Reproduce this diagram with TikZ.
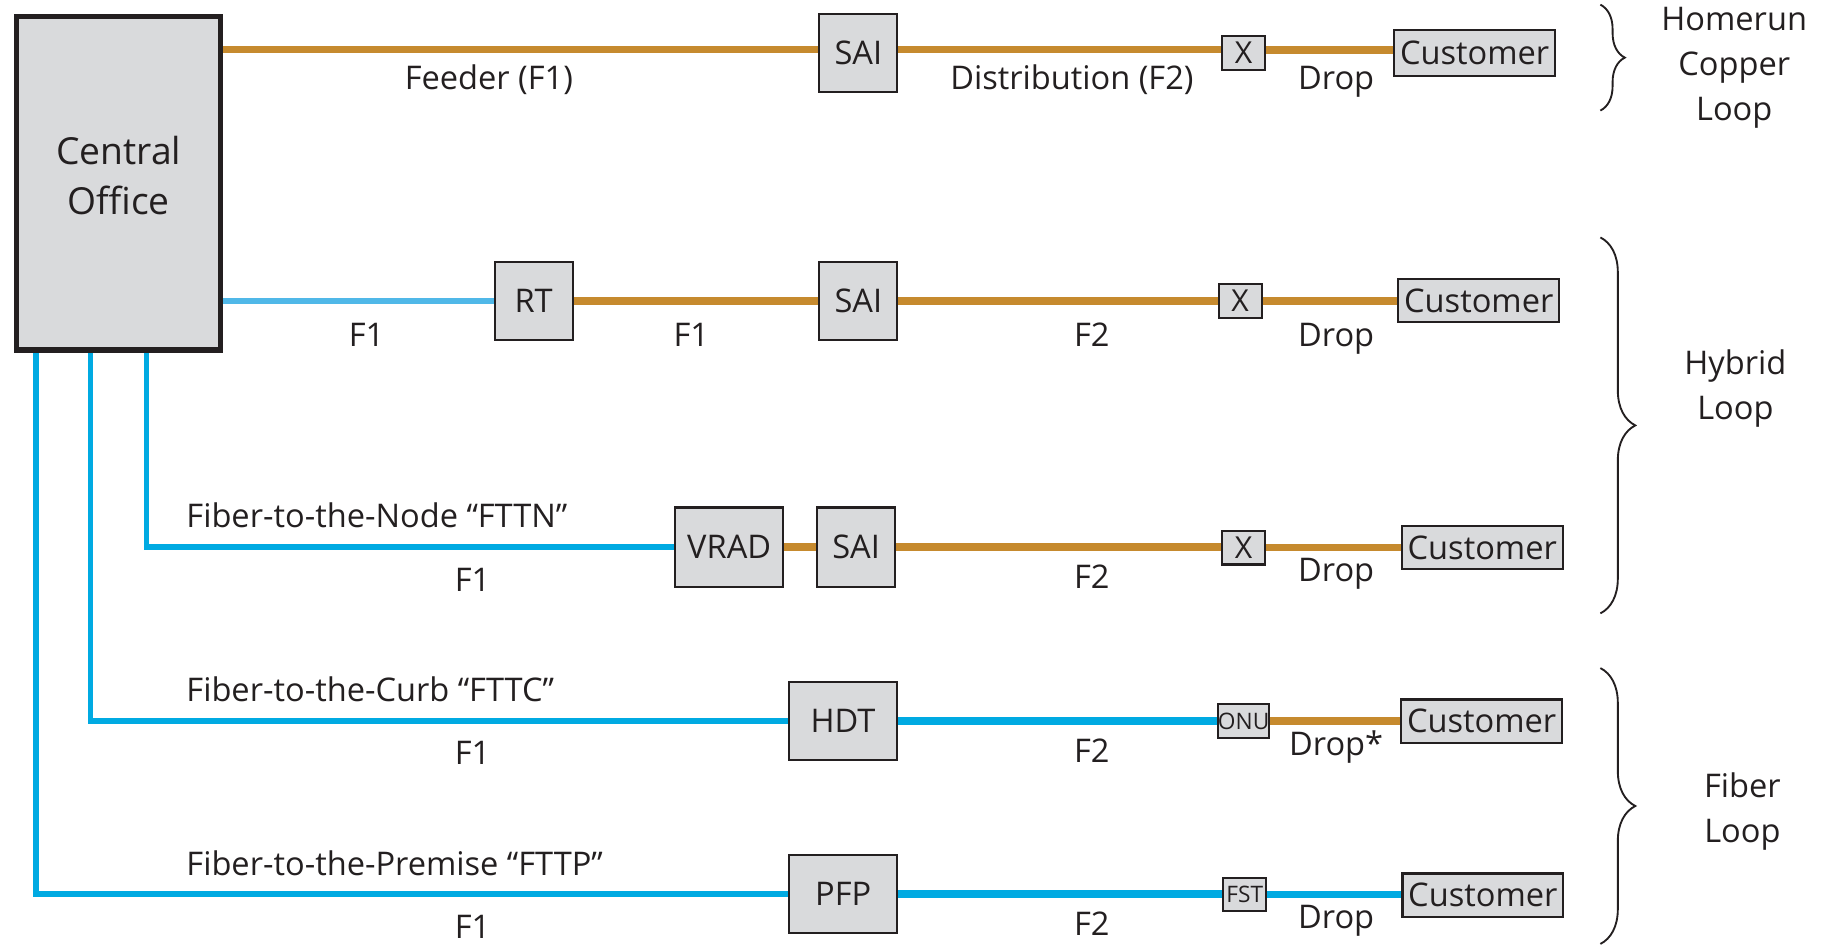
\documentclass[tikz,border=0pt]{standalone}
\usepackage{fontspec}
\setmainfont{Open Sans}
\usetikzlibrary{decorations.pathreplacing,backgrounds}
\definecolor{copperc}{HTML}{C68A2E}
\definecolor{fiberc}{HTML}{00AAE2}
\definecolor{fiberlt}{HTML}{50B8E8}
\definecolor{boxfill}{HTML}{D9DADC}
\definecolor{edgec}{HTML}{231F20}
\tikzset{
  gbox/.style={draw=edgec, fill=boxfill, line width=1.8pt, inner sep=0pt, outer sep=0pt},
  cobox/.style={draw=edgec, fill=boxfill, line width=4.5pt, inner sep=0pt, align=center,
                minimum width=175.5pt, minimum height=286.5pt},
  bigbox/.style={gbox, minimum width=67pt, minimum height=67pt},
  smallbox/.style={gbox, minimum width=37pt, minimum height=29pt},
  custbox/.style={gbox, minimum width=138pt, minimum height=37pt},
  tinytext/.style={font=\fontsize{19.5}{22}\selectfont},
  xtext/.style={font=\fontsize{26}{30}\selectfont},
  lbl/.style={anchor=base, inner sep=0pt},
  flbl/.style={anchor=base west, inner sep=0pt},
  looplbl/.style={align=center, inner sep=0pt},
  copper/.style={draw=copperc, line width=6.6pt},
  fiber/.style={draw=fiberc, line width=4.5pt},
  fiberthick/.style={draw=fiberc, line width=6.8pt},
  fiberlight/.style={draw=fiberlt, line width=5pt},
  curly/.style={draw=edgec, line width=1.6pt, decorate, decoration={brace, amplitude=#1}}
}
\begin{document}
\begin{tikzpicture}[x=1pt, y=-1pt, font=\fontsize{28}{38.5}\selectfont, text=edgec]
\useasboundingbox (0,0) rectangle (1568,813);

% Central office
\node[cobox] (co) at (102,157.5) {};
\node[align=center, inner sep=0pt, font=\fontsize{32}{43}\selectfont] (cotext) at (102,151) {Central\\Office};

% Row 1
\node[bigbox] (sai1) at (737.5,45.5) {SAI};
\node[smallbox, xtext] (x1) at (1068.5,45.5) {X};
\node[custbox, minimum height=39pt] (cust1) at (1267,45.5) {Customer};

% Row 2
\node[bigbox] (rt) at (458.5,258.5) {RT};
\node[bigbox] (sai2) at (737.5,258.5) {SAI};
\node[smallbox, xtext] (x2) at (1065.5,258.5) {X};
\node[custbox] (cust2) at (1270.5,258.5) {Customer};

% Row 3
\node[gbox, minimum width=93pt, minimum height=68pt] (vrad) at (626.5,470) {VRAD};
\node[gbox, minimum width=67pt, minimum height=68pt] (sai3) at (735.5,470) {SAI};
\node[smallbox, xtext] (x3) at (1068.5,470.5) {X};
\node[custbox] (cust3) at (1273.5,470.5) {Customer};

% Row 4
\node[gbox, minimum width=92.5pt, minimum height=67pt] (hdt) at (724.3,619.5) {HDT};
\node[smallbox, tinytext] (onu) at (1068.5,619.5) {ONU};
\node[custbox] (cust4) at (1273,619.5) {Customer};

% Row 5
\node[gbox, minimum width=93pt, minimum height=66.5pt] (pfp) at (724.5,768) {PFP};
\node[smallbox, tinytext] (fst) at (1069.5,768.5) {FST};
\node[custbox] (cust5) at (1274,769) {Customer};

% Connectors
\begin{pgfonlayer}{background}
  \draw[copper] (co.east |- 0,42.5) -- (sai1.west |- 0,42.5);
  \draw[copper] (sai1.east |- 0,42.5) -- (x1.west |- 0,42.5);
  \draw[copper] (x1.east |- 0,43) -- (cust1.west |- 0,43);

  \draw[fiberlight] (co.east |- rt.west) -- (rt.west);
  \draw[copper] (rt.east) -- (sai2.west);
  \draw[copper] (sai2.east) -- (x2.west);
  \draw[copper] (x2.east) -- (cust2.west);

  \draw[fiber] (co.south -| 126,0) |- (vrad.west);
  \draw[copper] (vrad.east) -- (sai3.west);
  \draw[copper] (sai3.east) -- (x3.west |- sai3.east);
  \draw[copper] (x3.east) -- (cust3.west);

  \draw[fiber] (co.south -| 78,0) |- (hdt.west);
  \draw[fiberthick] (hdt.east) -- (onu.west);
  \draw[copper] (onu.east) -- (cust4.west);

  \draw[fiber] (co.south -| 31,0) |- (pfp.west);
  \draw[fiberthick] (pfp.east) -- (fst.west |- pfp.east);
  \draw[fiberthick] (fst.east) -- (cust5.west |- fst.east);
\end{pgfonlayer}

% Labels row 1
\node[lbl] (lfeeder) at (420,77) {Feeder (F1)};
\node[lbl] (ldist) at (921,77) {Distribution (F2)};
\node[lbl] (ldrop1) at (1148,77) {Drop};
% Labels row 2
\node[lbl] (l2a) at (315,297.5) {F1};
\node[lbl] (l2b) at (594,297.5) {F1};
\node[lbl] (l2c) at (938,297.5) {F2};
\node[lbl] (ldrop2) at (1148,297.5) {Drop};
% Labels row 3
\node[flbl] (lfttn) at (160,453) {Fiber-to-the-Node “FTTN”};
\node[lbl] (l3a) at (406,508) {F1};
\node[lbl] (l3b) at (938,506) {F2};
\node[lbl] (ldrop3) at (1148,500) {Drop};
% Labels row 4
\node[flbl] (lfttc) at (160,603) {Fiber-to-the-Curb “FTTC”};
\node[lbl] (l4a) at (406,657) {F1};
\node[lbl] (l4b) at (938,655) {F2};
\node[lbl] (ldrop4) at (1148,649.5) {Drop*};
% Labels row 5
\node[flbl] (lfttp) at (160,752) {Fiber-to-the-Premise “FTTP”};
\node[lbl] (l5a) at (406,806) {F1};
\node[lbl] (l5b) at (938,804) {F2};
\node[lbl] (ldrop5) at (1148,798) {Drop};

% Braces
\draw[curly=21pt] (1375,4) coordinate (b1s) -- (1375,95) coordinate (b1e);
\draw[curly=30pt] (1375,204) coordinate (b2s) -- (1375,527) coordinate (b2e);
\draw[curly=30pt] (1375,574) coordinate (b3s) -- (1375,811) coordinate (b3e);

\node[looplbl] (lhome) at (1490,58) {Homerun\\Copper\\Loop};
\node[looplbl] (lhyb) at (1491,334) {Hybrid\\Loop};
\node[looplbl] (lfib) at (1497,697) {Fiber\\Loop};
\end{tikzpicture}
\end{document}
